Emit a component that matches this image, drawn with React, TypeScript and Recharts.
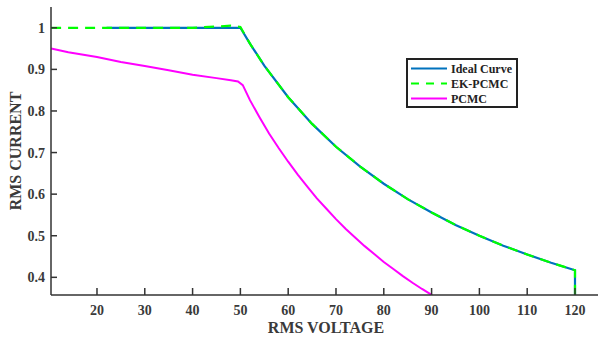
import React from 'react';
import { LineChart, Line, XAxis, YAxis, Legend } from 'recharts';

const xTicks = [20, 30, 40, 50, 60, 70, 80, 90, 100, 110, 120];
const yTicks = [0.4, 0.5, 0.6, 0.7, 0.8, 0.9, 1];

const idealVoltage = [22, 50, 52, 55, 60, 65, 70, 75, 80, 85, 90, 95, 100, 105, 110, 115, 120, 120];
const idealCurrent = [1, 1, 0.962, 0.909, 0.833, 0.769, 0.714, 0.667, 0.625, 0.588, 0.556, 0.526, 0.5, 0.476, 0.455, 0.435, 0.417, 0.3];

const ekVoltage = [10.4, 20, 30, 40, 45, 48, 50, 52, 55, 60, 65, 70, 75, 80, 85, 90, 95, 100, 105, 110, 115, 120, 120];
const ekCurrent = [1, 1, 1, 1, 1.003, 1.005, 1.002, 0.962, 0.909, 0.833, 0.769, 0.714, 0.667, 0.625, 0.588, 0.556, 0.526, 0.5, 0.476, 0.455, 0.435, 0.417, 0.3];

const pcmcVoltage = [10.4, 14, 20, 25, 30, 35, 40, 45, 48, 49.5, 50.5, 52, 54, 56, 58, 60, 62, 64, 66, 68, 70, 72, 74, 76, 78, 80, 82, 84, 86, 88, 90.1];
const pcmcCurrent = [0.95, 0.941, 0.93, 0.918, 0.908, 0.898, 0.887, 0.879, 0.874, 0.871, 0.862, 0.826, 0.785, 0.746, 0.711, 0.678, 0.647, 0.618, 0.590, 0.565, 0.540, 0.517, 0.496, 0.475, 0.456, 0.437, 0.420, 0.403, 0.387, 0.372, 0.357];

const seriesNames = ['Ideal Curve', 'EK-PCMC', 'PCMC'];
const seriesColors = ['#0072BD', '#00FF00', '#FF00FF'];

const toRows = (xs: number[], ys: number[]) => xs.map((v, i) => ({ v, c: ys[i] }));
const idealData = toRows(idealVoltage, idealCurrent);
const ekData = toRows(ekVoltage, ekCurrent);
const pcmcData = toRows(pcmcVoltage, pcmcCurrent);

const FONT = '"Liberation Serif", "Times New Roman", serif';
const AXIS = '#333';
const TEXT = '#3a3a3a';
const X_DOMAIN: [number, number] = [10.38, 125.44];
const Y_DOMAIN: [number, number] = [0.3575, 1.05];

const BottomTick = (props: any) => {
  const { x, y, payload } = props;
  return (
    <g>
      <line x1={x} y1={y} x2={x} y2={y - 7} stroke={AXIS} strokeWidth={1.5} />
      <text x={x} y={y + 20} textAnchor="middle" fontFamily={FONT} fontWeight="bold" fontSize={14} fill={TEXT}>
        {payload.value}
      </text>
    </g>
  );
};

const TopTick = (props: any) => {
  const { x, y } = props;
  return <line x1={x} y1={y} x2={x} y2={y + 7} stroke={AXIS} strokeWidth={1.5} />;
};

const LeftTick = (props: any) => {
  const { x, y, payload } = props;
  const v = payload.value;
  const label = v === 1 ? '1' : Number(v).toFixed(1);
  return (
    <g>
      <line x1={x} y1={y} x2={x + 6} y2={y} stroke={AXIS} strokeWidth={1.5} />
      <text x={x - 6} y={y + 5} textAnchor="end" fontFamily={FONT} fontWeight="bold" fontSize={14} fill={TEXT}>
        {label}
      </text>
    </g>
  );
};

const RightTick = (props: any) => {
  const { x, y } = props;
  return <line x1={x} y1={y} x2={x - 7} y2={y} stroke={AXIS} strokeWidth={1.5} />;
};

const YLabel = (props: any) => {
  const vb = props.viewBox || {};
  const cx = 15;
  const cy = (vb.y || 0) + (vb.height || 0) / 2;
  return (
    <text x={cx} y={cy} transform={`rotate(-90 ${cx} ${cy})`} textAnchor="middle" dominantBaseline="central"
      fontFamily={FONT} fontWeight="bold" fontSize={16} fill={TEXT}>
      RMS CURRENT
    </text>
  );
};

const XLabel = (props: any) => {
  const vb = props.viewBox || {};
  const cx = (vb.x || 0) + (vb.width || 0) / 2;
  return (
    <text x={cx} y={333} textAnchor="middle" fontFamily={FONT} fontWeight="bold" fontSize={16} fill={TEXT}>
      RMS VOLTAGE
    </text>
  );
};

const LegendBox = () => {
  return (
    <svg width={112} height={50} style={{ display: 'block' }}>
      <rect x={1} y={1} width={110} height={48} fill="#fff" stroke="#222" strokeWidth={2} />
      {seriesNames.map((name, i) => {
        const cy = 10.5 + i * 15;
        const dashed = i === 1;
        return (
          <g key={name}>
            <line x1={5} y1={cy} x2={41} y2={cy} stroke={seriesColors[i]} strokeWidth={2.2}
              strokeDasharray={dashed ? '8 7' : undefined} />
            <text x={45} y={cy + 4} fontFamily={FONT} fontWeight="bold" fontSize={12} fill="#222">
              {name}
            </text>
          </g>
        );
      })}
    </svg>
  );
};

export default function App() {
  return (
    <div style={{ position: 'absolute', left: 0, top: 0, width: 598, height: 338, overflow: 'hidden', background: '#fff' }}>
      <LineChart width={601} height={338} margin={{ top: 7, right: 0, bottom: 0, left: 0 }}>
        <XAxis dataKey="v" type="number" domain={X_DOMAIN} allowDataOverflow ticks={xTicks}
          height={43} tickSize={0} tickMargin={0} tickLine={false} tick={<BottomTick />}
          axisLine={{ stroke: AXIS, strokeWidth: 1.5 }} label={<XLabel />} interval={0} />
        <XAxis xAxisId="top" orientation="top" dataKey="v" type="number" domain={X_DOMAIN} allowDataOverflow
          ticks={xTicks} height={0} tickSize={0} tickMargin={0} tickLine={false} tick={<TopTick />}
          axisLine={{ stroke: AXIS, strokeWidth: 1.5 }} interval={0} />
        <YAxis type="number" domain={Y_DOMAIN} allowDataOverflow ticks={yTicks} width={51}
          tickSize={0} tickMargin={0} tickLine={false} tick={<LeftTick />}
          axisLine={{ stroke: AXIS, strokeWidth: 1.5 }} label={<YLabel />} interval={0} />
        <YAxis yAxisId="right" orientation="right" type="number" domain={Y_DOMAIN} allowDataOverflow
          ticks={yTicks} width={0} tickSize={0} tickMargin={0} tickLine={false} tick={<RightTick />}
          axisLine={{ stroke: AXIS, strokeWidth: 1.5 }} interval={0} />
        <Legend layout="horizontal" verticalAlign="middle" align="center" content={<LegendBox />}
          wrapperStyle={{ position: 'absolute', left: 406, top: 58, width: 112, height: 50 }} />
        <Line data={idealData} dataKey="c" name={seriesNames[0]} stroke={seriesColors[0]} strokeWidth={2.2}
          dot={false} isAnimationActive={false} type="linear" />
        <Line data={ekData} dataKey="c" name={seriesNames[1]} stroke={seriesColors[1]} strokeWidth={2.2}
          strokeDasharray="10 7" dot={false} isAnimationActive={false} type="linear" />
        <Line data={pcmcData} dataKey="c" name={seriesNames[2]} stroke={seriesColors[2]} strokeWidth={2}
          dot={false} isAnimationActive={false} type="linear" />
      </LineChart>
    </div>
  );
}
